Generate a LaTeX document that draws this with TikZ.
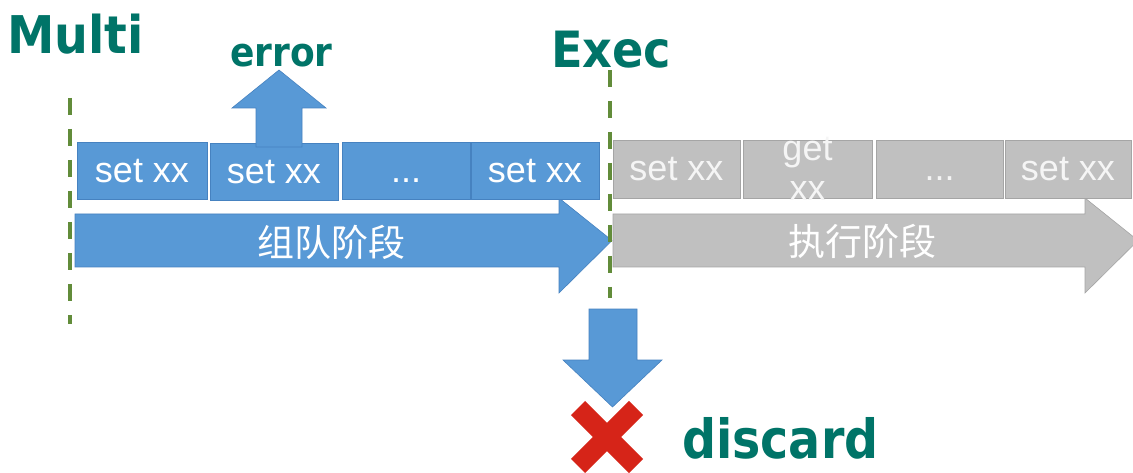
\documentclass[tikz,border=0pt]{standalone}
\usepackage{fontspec}
\usetikzlibrary{calc}
\setmainfont{Liberation Sans}
\newfontfamily\hdfont{DejaVu Sans}
\newfontfamily\cjkfont{Noto Sans CJK SC}
\definecolor{tealc}{RGB}{0,116,104}
\definecolor{bluec}{RGB}{88,153,214}
\definecolor{blueb}{RGB}{70,130,192}
\definecolor{grayc}{RGB}{192,192,192}
\definecolor{grayb}{RGB}{165,165,165}
\definecolor{graytext}{RGB}{245,245,245}
\definecolor{olivec}{RGB}{98,140,58}
\definecolor{redc}{RGB}{214,36,24}
\begin{document}
\begin{tikzpicture}[x=1pt,y=-1pt,
  heading/.style={font=\hdfont\bfseries, text=tealc, inner sep=0pt, anchor=base west},
  cmdbox/.style={rectangle, inner sep=0pt, minimum height=57pt, text height=24pt, text depth=0pt,
    font=\fontsize{36}{40}\selectfont, line width=0.8pt},
  bluebox/.style={cmdbox, fill=bluec, draw=blueb, text=white},
  graybox/.style={cmdbox, fill=grayc, draw=grayb, text=graytext},
  bluearrow/.style={fill=bluec, draw=blueb, line width=0.6pt},
  grayarrow/.style={fill=grayc, draw=grayb, line width=0.6pt},
  phase/.style={font=\cjkfont\fontsize{37}{40}\selectfont, text=white, inner sep=0pt},
  guide/.style={draw=olivec, line width=3.6pt, dash pattern=on 17pt off 14pt}]
\useasboundingbox (0,0) rectangle (1133,473);
\fill[white] (0,0) rectangle (1133,473);

% phase arrows (behind the boxes)
\path[bluearrow] (75,214) -- (559,214) -- (559,198) -- (612,240.5) -- (559,293) -- (559,267) -- (75,267) -- cycle;
\path[grayarrow] (613,214) -- (1085,214) -- (1085,198) -- (1138,240.5) -- (1085,293) -- (1085,267) -- (613,267) -- cycle;
\node[phase] (p1) at (331,242) {组队阶段};
\node[phase] (p2) at (862,241) {执行阶段};

% queued commands
\node[bluebox, minimum width=130pt] (b1) at (142,170.5) {set xx};
\node[bluebox, minimum width=128pt] (b2) at (274,172) {set xx};
\node[bluebox, minimum width=128pt] (b3) at (406,170.5) {...};
\node[bluebox, minimum width=128pt] (b4) at (535,170.5) {set xx};

% executed commands
\node[graybox, minimum width=127pt, minimum height=58pt] (g1) at (676.5,169) {set xx};
\node[graybox, minimum width=129pt, minimum height=58pt] (g2) at (807.5,169)
  {\makebox[0pt]{\raisebox{20pt}{get}}\makebox[0pt]{\raisebox{-20pt}{xx}}};
\node[graybox, minimum width=127pt, minimum height=58pt] (g3) at (939.5,169) {...};
\node[graybox, minimum width=126pt, minimum height=58pt] (g4) at (1068,169) {set xx};

% error arrow
\path[bluearrow] (256,147) -- (256,108) -- (232,108) -- (279,70) -- (326,108) -- (302,108) -- (302,147) -- cycle;

% headings
\node[heading, font=\hdfont\bfseries\fontsize{52}{60}\selectfont] (multi) at (7,54) {\scalebox{0.915}[1]{Multi}};
\node[heading, font=\hdfont\bfseries\fontsize{40}{48}\selectfont] (err) at (230,67) {\scalebox{0.9}[1]{error}};
\node[heading, font=\hdfont\bfseries\fontsize{50}{58}\selectfont] (exec) at (551,68) {\scalebox{0.925}[1]{Exec}};

% guide lines
\coordinate (m1) at (70,98);
\coordinate (m2) at (70,324);
\coordinate (e1) at (610,70);
\coordinate (e2) at (610,298);
\draw[guide] (m1) -- (m2);
\draw[guide] (e1) -- (e2);

% discard
\coordinate (xc) at (607,437);
\draw[redc, line width=20pt] ($(xc)+(-29,-29)$) -- ($(xc)+(29,29)$);
\draw[redc, line width=20pt] ($(xc)+(29,-29)$) -- ($(xc)+(-29,29)$);
\path[bluearrow] (589,309) -- (637,309) -- (637,360) -- (662,360) -- (612.5,407) -- (563,360) -- (589,360) -- cycle;
\node[heading, font=\hdfont\bfseries\fontsize{54}{60}\selectfont] (disc) at (682,458) {\scalebox{0.88}[1]{discard}};
\end{tikzpicture}
\end{document}
